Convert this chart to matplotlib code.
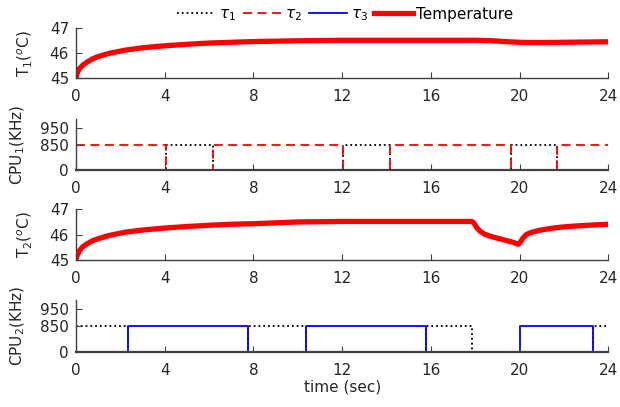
import numpy as np
import matplotlib
matplotlib.use('Agg')
import matplotlib.pyplot as plt

plt.rcParams['font.family'] = ['DejaVu Sans']
plt.rcParams['font.size'] = 11
plt.rcParams['mathtext.fontset'] = 'dejavusans'

# temperature traces
t_temp1 = [0, 0.05, 0.15, 0.3, 0.5, 0.75, 1.0, 1.5, 2.25, 3, 4, 5, 6, 7, 8, 10,
           12, 14, 16, 18, 18.5, 19, 19.5, 20, 20.5, 21, 22, 23, 24]
temp1 = [45.0, 45.2, 45.38, 45.52, 45.65, 45.78, 45.87, 46.0, 46.13, 46.22, 46.3,
         46.36, 46.41, 46.44, 46.47, 46.5, 46.52, 46.52, 46.52, 46.52, 46.51,
         46.49, 46.46, 46.44, 46.43, 46.43, 46.44, 46.45, 46.46]

t_temp2 = [0, 0.05, 0.15, 0.3, 0.5, 0.75, 1.0, 1.5, 2.25, 3, 4, 5, 6, 7, 8, 10,
           12, 14, 16, 17.85, 17.95, 18.05, 18.2, 18.4, 18.7, 19.0, 19.4, 19.7,
           19.95, 20.05, 20.15, 20.3, 20.5, 20.9, 21.3, 21.7, 22.2, 22.7, 23.3, 24]
temp2 = [45.0, 45.18, 45.36, 45.52, 45.64, 45.76, 45.84, 45.97, 46.1, 46.18,
         46.26, 46.32, 46.37, 46.41, 46.43, 46.5, 46.52, 46.52, 46.52, 46.52,
         46.45, 46.3, 46.15, 46.03, 45.93, 45.86, 45.77, 45.7, 45.62, 45.72,
         45.86, 46.0, 46.08, 46.17, 46.23, 46.28, 46.32, 46.35, 46.38, 46.41]

# CPU frequency schedules (KHz), step signals
t_cpu1_tau1 = [0, 4.04, 6.17, 12.05, 14.18, 19.6, 21.69, 24]
f_cpu1_tau1 = [0, 850, 0, 850, 0, 850, 0, 0]
t_cpu1_tau2 = [0, 4.04, 6.17, 12.05, 14.18, 19.6, 21.69, 24]
f_cpu1_tau2 = [850, 0, 850, 0, 850, 0, 850, 850]

t_cpu2_tau1 = [0, 2.35, 7.77, 10.35, 15.77, 17.87, 23.29, 24]
f_cpu2_tau1 = [850, 0, 850, 0, 850, 0, 850, 850]
t_cpu2_tau3 = [0, 2.35, 7.77, 10.35, 15.77, 20.0, 23.29, 24]
f_cpu2_tau3 = [0, 850, 0, 850, 0, 850, 0, 0]

cpu_ticks = [0, 850, 950]
temp_ticks = [45, 46, 47]
time_ticks = [0, 4, 8, 12, 16, 20, 24]

txt = '#262626'
ax_col = '#404040'


# the CPU axes are not linear: 0..850 squeezed, 850..950 stretched
def fwd(v):
    v = np.asarray(v, float)
    return np.where(v <= 850, v * 1.5 / 850, 1.5 + (v - 850) / 100.0)


def inv(u):
    u = np.asarray(u, float)
    return np.where(u <= 1.5, u * 850 / 1.5, 850 + (u - 1.5) * 100.0)


fig = plt.figure(figsize=(6.2, 4.07), dpi=100)
L, W = 0.1226, 0.8585
ax1 = fig.add_axes([L, 0.8076, W, 0.1229])
ax2 = fig.add_axes([L, 0.5823, W, 0.1246])
ax3 = fig.add_axes([L, 0.3612, W, 0.1246])
ax4 = fig.add_axes([L, 0.1359, W, 0.1270])

lw_t = 3.8
ln_temp, = ax1.plot(t_temp1, temp1, color='red', lw=lw_t, solid_joinstyle='round',
                    label='Temperature')
ax3.plot(t_temp2, temp2, color='red', lw=lw_t, solid_joinstyle='round')

lw = 1.3
ln1, = ax2.plot(t_cpu1_tau1, f_cpu1_tau1, drawstyle='steps-post', color='black',
                ls=':', lw=lw, zorder=1, label=r'$\tau_1$')
ln2, = ax2.plot(t_cpu1_tau2, f_cpu1_tau2, drawstyle='steps-post', color='red',
                ls=(0, (5, 3)), lw=lw, zorder=1, label=r'$\tau_2$')
ax4.plot(t_cpu2_tau1, f_cpu2_tau1, drawstyle='steps-post', color='black',
         ls=':', lw=lw, zorder=1)
ln3, = ax4.plot(t_cpu2_tau3, f_cpu2_tau3, drawstyle='steps-post', color='blue',
                lw=lw, zorder=1, label=r'$\tau_3$')

for ax in (ax1, ax2, ax3, ax4):
    ax.set_xlim(0, 24)
    ax.set_xticks(time_ticks)
    ax.spines['top'].set_visible(False)
    ax.spines['right'].set_visible(False)
    for s in ('left', 'bottom'):
        ax.spines[s].set_color(ax_col)
        ax.spines[s].set_linewidth(1.0)
    ax.tick_params(direction='in', length=4.5, width=0.8, colors=ax_col,
                   labelcolor=txt)
    ax.tick_params(axis='x', pad=8)
    ax.tick_params(axis='y', pad=5)

for ax in (ax1, ax3):
    ax.set_ylim(45, 47)
    ax.set_yticks(temp_ticks)

for ax in (ax2, ax4):
    ax.set_yscale('function', functions=(fwd, inv))
    ax.set_ylim(0, 1000)
    ax.set_yticks(cpu_ticks)
    ax.set_yticklabels([str(v) for v in cpu_ticks])
    ax.minorticks_off()
    # keep the idle (0 KHz) part of the schedules hidden under the axis line
    ax.spines['bottom'].set_linewidth(1.6)
    ax.spines['bottom'].set_zorder(3)

ax1.set_ylabel(r'T$_1$($^o$C)', color=txt)
ax2.set_ylabel(r'CPU$_1$(KHz)', color=txt)
ax3.set_ylabel(r'T$_2$($^o$C)', color=txt)
ax4.set_ylabel(r'CPU$_2$(KHz)', color=txt)
ax1.yaxis.set_label_coords(-0.078, 0.5)
ax3.yaxis.set_label_coords(-0.078, 0.5)
ax2.yaxis.set_label_coords(-0.092, 0.5)
ax4.yaxis.set_label_coords(-0.092, 0.5)
ax4.set_xlabel('time (sec)', color=txt, labelpad=1)

fig.legend(handles=[ln1, ln2, ln3, ln_temp], loc='center', ncol=4,
           bbox_to_anchor=(0.557, 0.963), frameon=False, handlelength=2.5,
           handletextpad=0.25, columnspacing=0.45, borderpad=0)

fig.savefig('out.png', dpi=100)
